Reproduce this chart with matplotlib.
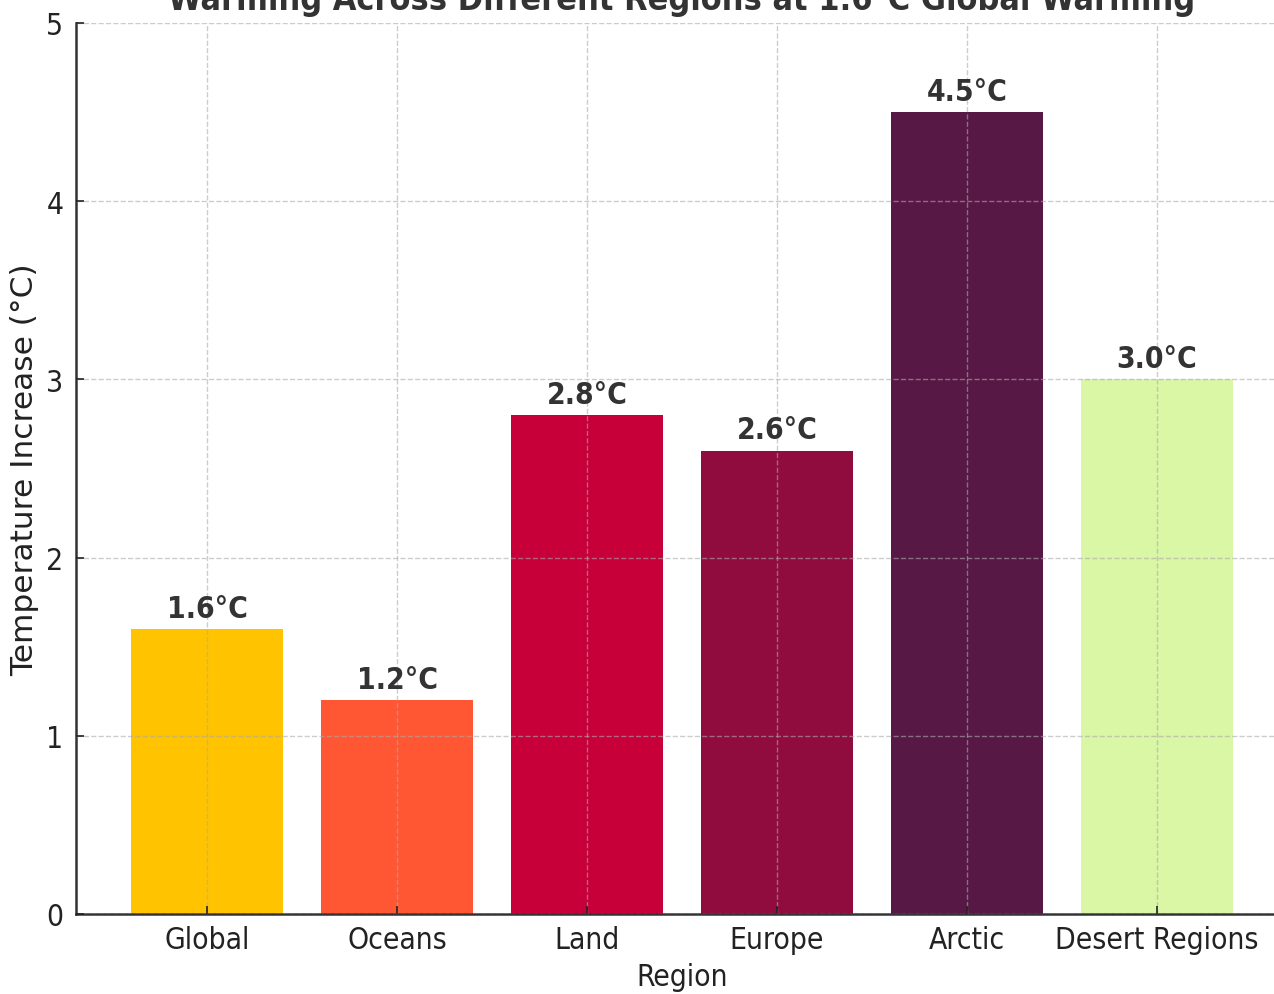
import matplotlib
matplotlib.use("Agg")
import matplotlib.pyplot as plt

regions = ["Global", "Oceans", "Land", "Europe", "Arctic", "Desert Regions"]
warming = [1.6, 1.2, 2.8, 2.6, 4.5, 3.0]
colors = ["#FFC300", "#FF5733", "#C70039", "#900C3F", "#581845", "#DAF7A6"]

plt.rcParams["font.family"] = "DejaVu Sans"
plt.rcParams["font.stretch"] = "condensed"

fig = plt.figure(figsize=(12.74, 9.95), dpi=100)
W, H = 1274, 995
ax = fig.add_axes([76 / W, (H - 915) / H, (1288 - 76) / W, (915 - 24) / H])

bars = ax.bar(regions, warming, color=colors, width=0.8, zorder=1)
for b, v in zip(bars, warming):
    ax.text(b.get_x() + b.get_width() / 2, v + 0.035, f"{v:.1f}°C",
            ha="center", va="bottom", fontsize=21.5, fontweight="bold",
            color="#333333", fontstretch="condensed")

ax.set_ylim(0, 5)
ax.set_xlim(-0.69, 5.69)
ax.grid(True, linestyle="--", color="#aaaaaa", alpha=0.6, linewidth=1)
ax.set_axisbelow(False)

for s in ["top", "right"]:
    ax.spines[s].set_visible(False)
for s in ["left", "bottom"]:
    ax.spines[s].set_color("#333333")
    ax.spines[s].set_linewidth(1.8)

ax.tick_params(axis="both", direction="in", length=6, width=1.2,
               labelsize=21.5, colors="#222222", pad=8)
ax.tick_params(axis="y", pad=9)

ax.set_title("Warming Across Different Regions at 1.6°C Global Warming",
             fontsize=24.5, fontweight="bold", color="#333333", pad=10)
ax.set_xlabel("Region", fontsize=21.5, color="#222222", labelpad=6)
ax.set_ylabel("Temperature Increase (°C)", fontsize=22.5, color="#222222",
              fontstretch="normal", labelpad=5)

fig.savefig("out.png", dpi=100)
